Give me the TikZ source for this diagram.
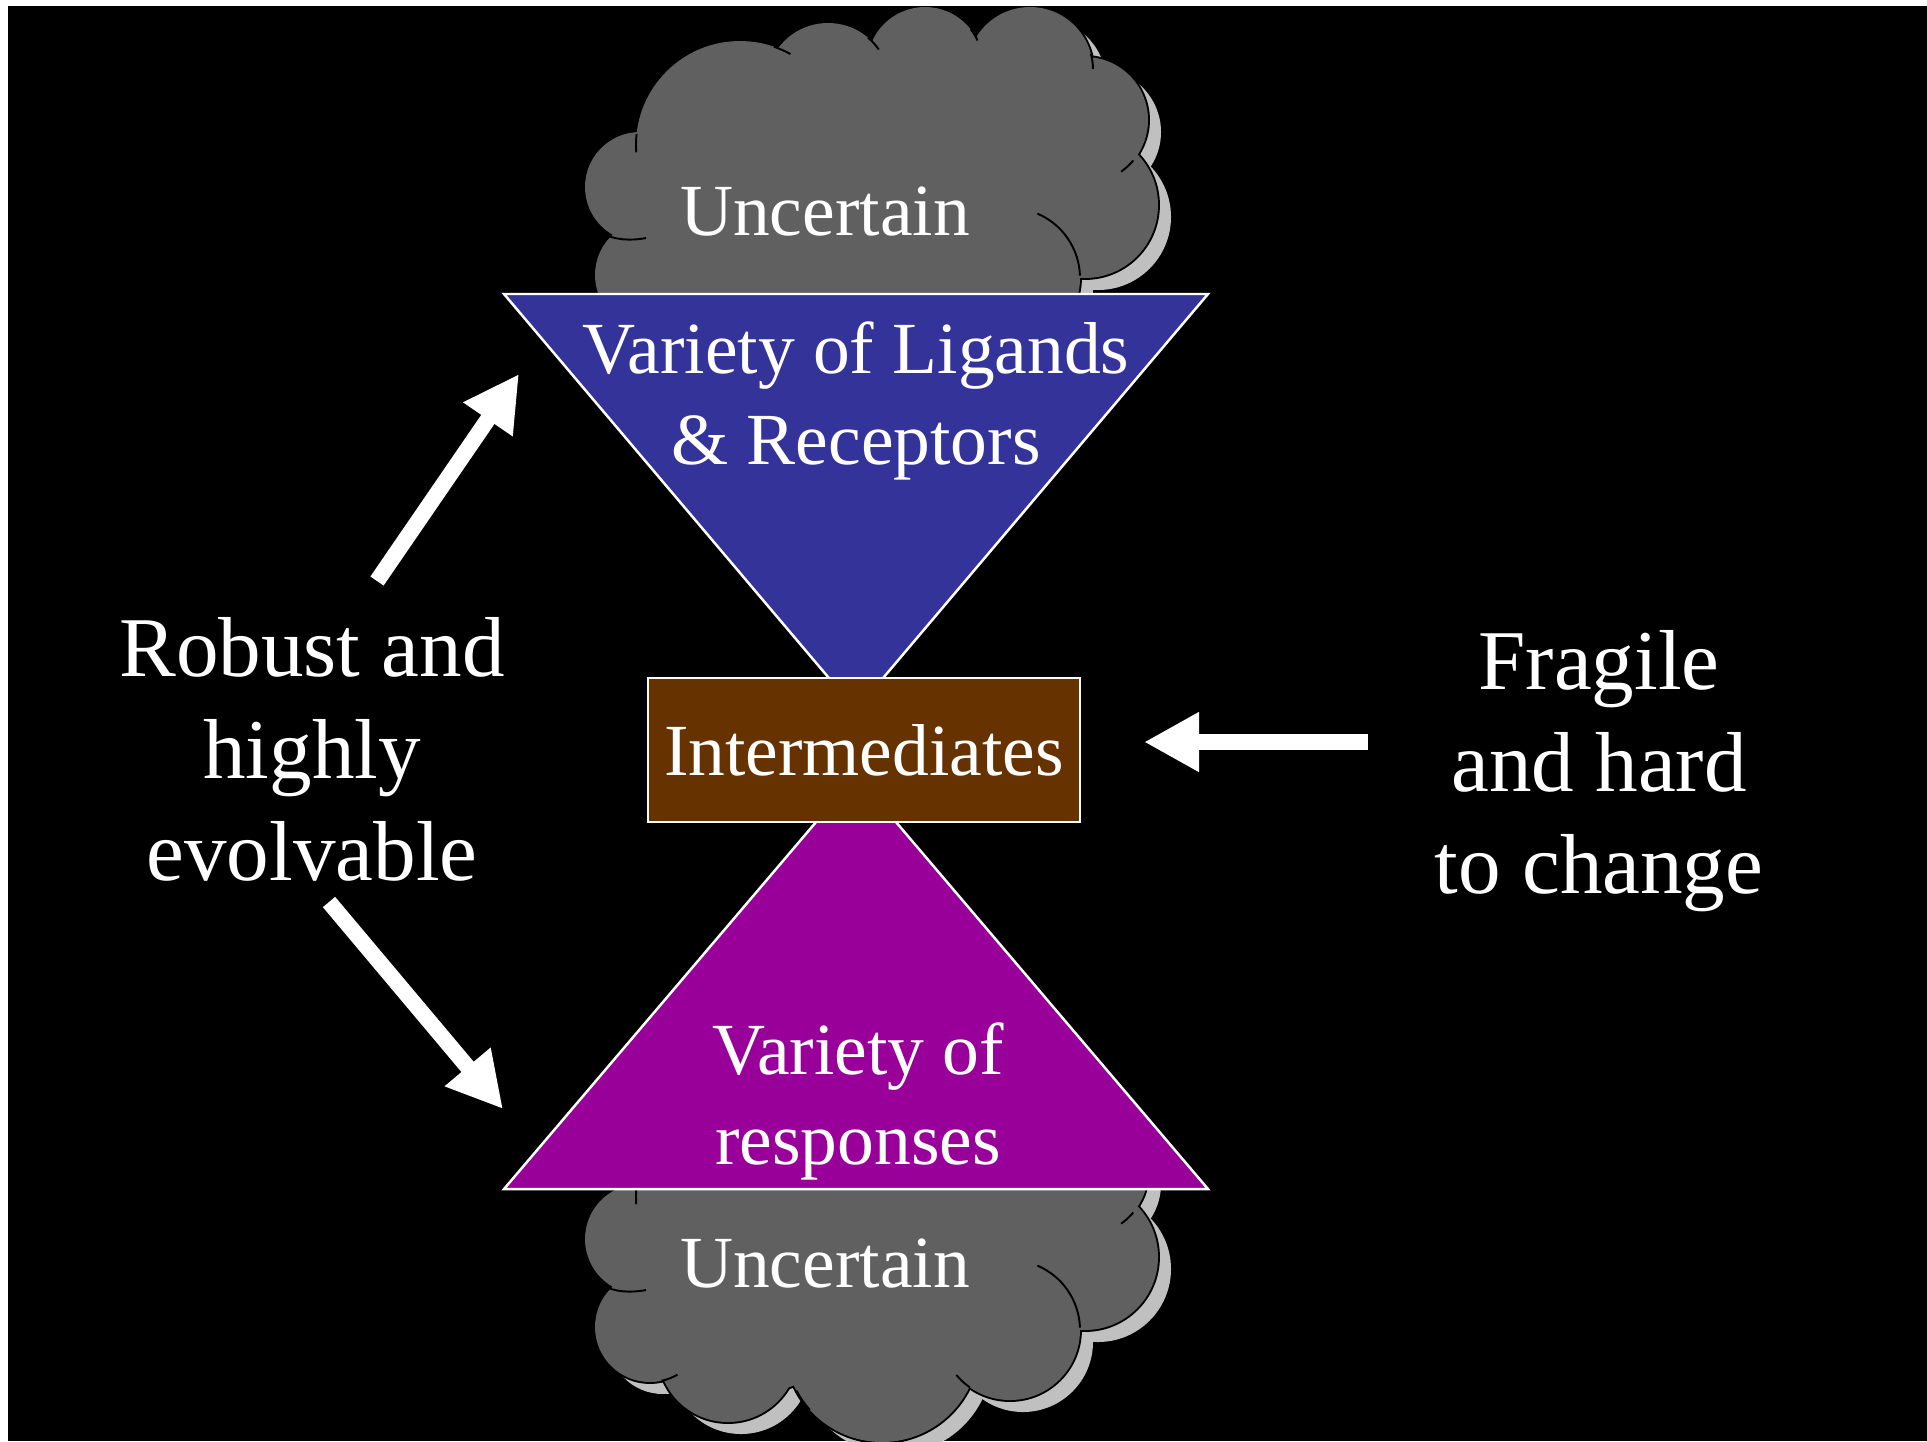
\documentclass[tikz,border=0pt]{standalone}
\usepackage{fontspec}
\setmainfont{Liberation Serif}
\usetikzlibrary{arrows.meta}

\definecolor{ligandblue}{HTML}{333399}
\definecolor{responsepurple}{HTML}{990099}
\definecolor{interbrown}{HTML}{663300}
\definecolor{cloudgray}{HTML}{606060}
\definecolor{cloudshade}{HTML}{C0C0C0}

\tikzset{
  slidetext/.style={text=white, inner sep=0pt, align=center,
    font=\fontsize{20.9pt}{25.6pt}\selectfont},
  sidetext/.style={text=white, inner sep=0pt, align=center,
    font=\fontsize{24.2pt}{29pt}\selectfont},
  fatarrow/.style={white, line width=1.6mm, -{Triangle[length=5.5mm,width=5.6mm]}},
}

% cloud bumps as x/y/radius
\newcommand{\cloudbumps}{740/145/104, 828/85/62, 925/65/58, 1030/70/63, 1085/120/63,
  1085/205/73, 1010/278/70, 882/293/97, 728/300/70, 650/275/55, 640/187/55,
  860/210/130, 760/250/90, 1000/190/90, 970/130/50}
% folds inside the cloud as x/y/radius/from/to
\newcommand{\cloudfolds}{740/145/104/186/176, 740/145/104/-71/-61, 828/85/62/-50/-35,
  925/65/58/-38/-25, 1030/70/63/-15/-1, 1085/120/63/40/55, 1010/278/70/-67/-2,
  650/275/55/78/60, 882/293/97/152/138, 1010/278/70/140/125}

\newcommand{\drawcloud}{%
  \foreach \cx/\cy/\r in \cloudbumps
    \fill[cloudshade] (\cx+13,\cy+12) circle[radius=\r];
  \foreach \cx/\cy/\r in \cloudbumps
    \filldraw[fill=cloudgray, draw=black, line width=1.1pt] (\cx,\cy) circle[radius=\r];
  \foreach \cx/\cy/\r in \cloudbumps
    \fill[cloudgray] (\cx,\cy) circle[radius=\r];
  \foreach \cx/\cy/\r/\a/\b in \cloudfolds
    \draw[line width=0.55pt] (\cx,\cy) ++(\a:\r) arc[start angle=\a, end angle=\b, radius=\r];
  \draw[line width=0.55pt] (601,233) .. controls (615,240) and (630,241) .. (646,238);
}

\begin{document}
\begin{tikzpicture}[x=0.01cm, y=-0.01cm]
\useasboundingbox (0,0) rectangle (1927,1441);
\fill[white] (0,0) rectangle (1927,1441);
\fill[black] (8,6) rectangle (1927,1441);

% the two clouds, same shape
\begin{scope}
  \clip (8,6) rectangle (1927,1441);
  \drawcloud
  \begin{scope}[shift={(0,1052)}]
    \drawcloud
  \end{scope}
\end{scope}
\node[slidetext, anchor=base] (uncertaintop) at (825,235) {Uncertain};
\node[slidetext, anchor=base] (uncertainbot) at (825,1287) {Uncertain};

% funnel in, funnel out
\filldraw[fill=ligandblue, draw=white, line width=0.7pt] (504,294) -- (1208,294) -- (856,710) -- cycle;
\filldraw[fill=responsepurple, draw=white, line width=0.7pt] (504,1189) -- (1208,1189) -- (856,775) -- cycle;
% multi-line nodes sit on their last line
\node[slidetext, anchor=base] (ligands) at (856,464) {Variety of Ligands\\\& Receptors};
\node[slidetext, anchor=base] (responses) at (858,1164) {Variety of\\responses};

% the knot in the middle
\node[slidetext, draw=white, fill=interbrown, line width=0.7pt,
  minimum width=4.32cm, minimum height=1.44cm] (inter) at (864,750) {Intermediates};

% side remarks
\node[sidetext, anchor=base] (robust) at (312,880) {Robust and\\highly\\evolvable};
\node[sidetext, anchor=base] (fragile) at (1599,893) {Fragile\\and hard\\to change};

% arrows
\coordinate (uptail) at (377,581);
\coordinate (uptip) at (519,374);
\coordinate (downtail) at (329,902);
\coordinate (downtip) at (503,1109);
\coordinate (lefttail) at (1368,742);
\coordinate (lefttip) at (1144,742);
\draw[fatarrow] (uptail) -- (uptip);
\draw[fatarrow] (downtail) -- (downtip);
\draw[fatarrow] (lefttail) -- (lefttip);

\end{tikzpicture}
\end{document}
